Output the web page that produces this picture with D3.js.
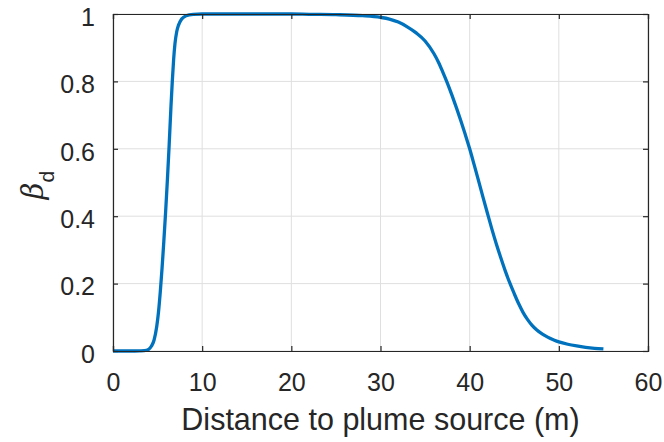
<!DOCTYPE html>
<html>
<head>
<meta charset="utf-8">
<script src="https://cdn.jsdelivr.net/npm/d3@7/dist/d3.min.js"></script>
<style>
  html, body { margin: 0; padding: 0; background: #fff; }
  svg { display: block; }
</style>
</head>
<body>
<div id="chart"></div>
<script>
// Distance to plume source (m)
const distance = [0, 1, 2, 3, 3.5, 4, 4.3, 4.6, 4.9, 5.1, 5.3, 5.5, 5.7, 5.9, 6.1, 6.3, 6.5, 6.65, 6.8, 6.95, 7.15, 7.35, 7.7, 8.2, 9, 10,
  15, 20, 22, 25, 28, 30, 31, 32, 33, 34, 35, 36, 36.5, 37, 37.5, 38, 38.5, 39, 39.5, 40, 40.5, 41, 41.5, 42, 42.5, 43, 43.5, 44, 44.5,
  45, 45.5, 46, 46.5, 47, 47.5, 48, 48.5, 49, 49.5, 50, 51, 52, 53, 54, 55];
// beta_d values
const betaD = [0, 0, 0, 0.0005, 0.001, 0.005, 0.014, 0.032, 0.072, 0.115, 0.175, 0.245, 0.325, 0.412, 0.508, 0.612, 0.725, 0.8, 0.865, 0.912, 0.948, 0.967, 0.985, 0.995, 0.999, 1,
  1, 1, 0.999, 0.998, 0.995, 0.99, 0.985, 0.976, 0.962, 0.944, 0.92, 0.882, 0.857, 0.827, 0.795, 0.76, 0.723, 0.684, 0.643, 0.6, 0.553, 0.505, 0.456, 0.408, 0.361, 0.317, 0.276, 0.237, 0.202,
  0.17, 0.14, 0.114, 0.093, 0.076, 0.063, 0.053, 0.045, 0.038, 0.032, 0.027, 0.02, 0.015, 0.011, 0.008, 0.006];
const xTicks = [0, 10, 20, 30, 40, 50, 60];
const yTicks = [0, 0.2, 0.4, 0.6, 0.8, 1];
const xLabel = "Distance to plume source (m)";

const W = 664, H = 442;
const m = { left: 113, right: 16, top: 14, bottom: 91 };
const axisColor = "#262626";
const gridColor = "#dfdfdf";
const lineColor = "#0072BD";
const font = "'Liberation Sans', Arial, Helvetica, sans-serif";

const svg = d3.select("#chart").append("svg").attr("width", W).attr("height", H);
const x = d3.scaleLinear().domain([0, 60]).range([m.left, W - m.right]);
const y = d3.scaleLinear().domain([0, 1]).range([H - m.bottom, m.top]);

// grid
svg.append("g").selectAll("line").data(xTicks).join("line")
  .attr("x1", d => x(d)).attr("x2", d => x(d))
  .attr("y1", y(0)).attr("y2", y(1))
  .attr("stroke", gridColor).attr("stroke-width", 1);
svg.append("g").selectAll("line").data(yTicks).join("line")
  .attr("x1", x(0)).attr("x2", x(60))
  .attr("y1", d => y(d)).attr("y2", d => y(d))
  .attr("stroke", gridColor).attr("stroke-width", 1);

// curve
const pts = distance.map((d, i) => [d, betaD[i]]);
svg.append("path").datum(pts)
  .attr("fill", "none").attr("stroke", lineColor).attr("stroke-width", 3.3)
  .attr("stroke-linejoin", "round").attr("stroke-linecap", "butt")
  .attr("d", d3.line().x(d => x(d[0])).y(d => y(d[1])).curve(d3.curveMonotoneX));

// axes
const tickLen = 5;
const fmtY = d => d === 0 ? "0" : d === 1 ? "1" : d3.format(".1f")(d);
const gx = svg.append("g").attr("transform", `translate(0,${y(0)})`)
  .call(d3.axisBottom(x).tickValues(xTicks).tickSize(-tickLen).tickPadding(22).tickFormat(d3.format("d")));
const gxt = svg.append("g").attr("transform", `translate(0,${y(1)})`)
  .call(d3.axisTop(x).tickValues(xTicks).tickSize(-tickLen).tickFormat(""));
const gy = svg.append("g").attr("transform", `translate(${x(0)},0)`)
  .call(d3.axisLeft(y).tickValues(yTicks).tickSize(-tickLen).tickPadding(18).tickFormat(fmtY));
const gyr = svg.append("g").attr("transform", `translate(${x(60)},0)`)
  .call(d3.axisRight(y).tickValues(yTicks).tickSize(-tickLen).tickFormat(""));

[gx, gxt, gy, gyr].forEach(g => {
  g.select(".domain").attr("stroke", axisColor).attr("stroke-width", 1.2);
  g.selectAll(".tick line").attr("stroke", axisColor).attr("stroke-width", 1.2);
  g.selectAll(".tick text").attr("fill", axisColor).style("font-family", font).style("font-size", "25px");
});
gx.selectAll(".tick text").attr("dy", "0.71em");
gy.selectAll(".tick text").attr("dy", "0.45em");

// x label
svg.append("text")
  .attr("x", (x(0) + x(60)) / 2).attr("y", 430)
  .attr("text-anchor", "middle").attr("fill", axisColor)
  .style("font-family", font).style("font-size", "30.5px")
  .text(xLabel);

// y label: beta_d
const yl = svg.append("text")
  .attr("transform", `translate(43,185) rotate(-90)`)
  .attr("text-anchor", "middle").attr("fill", axisColor)
  .style("font-family", font).style("font-size", "29px");
yl.append("tspan").style("font-family", "'DejaVu Serif', 'Liberation Serif', serif").style("font-style", "italic").style("font-weight", "300").text("β");
yl.append("tspan").attr("dy", 11).style("font-size", "21px").text("d");
</script>
</body>
</html>
